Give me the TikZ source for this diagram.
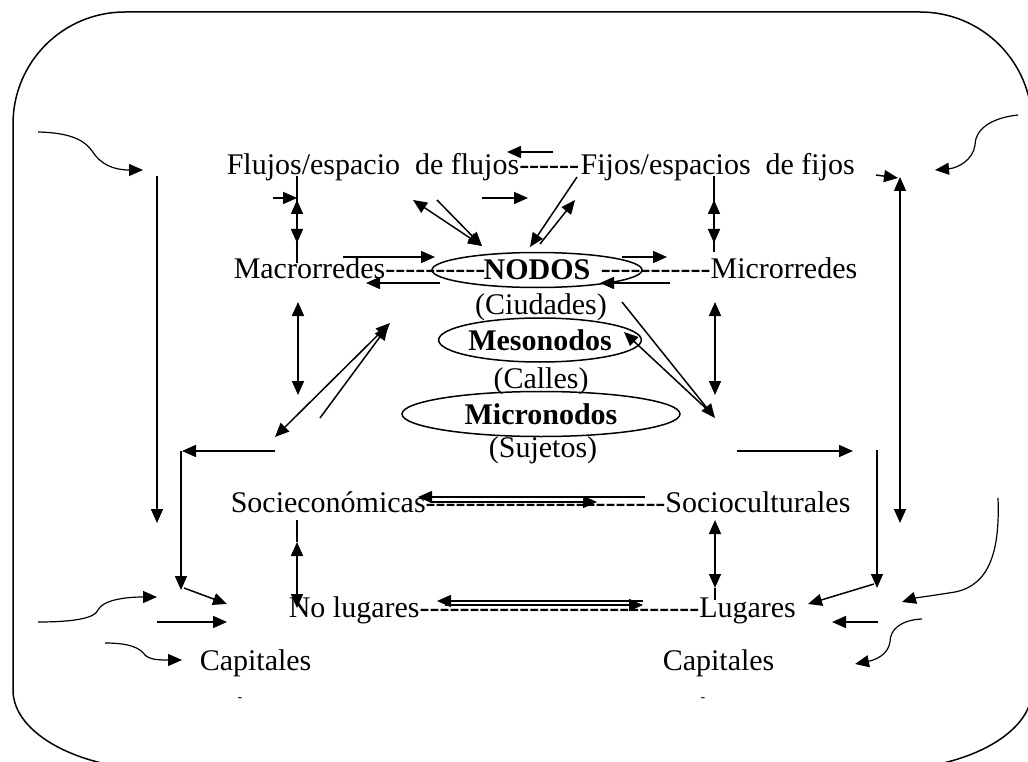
\documentclass[tikz,border=0pt]{standalone}
\usepackage{fontspec}
\setmainfont{Liberation Serif}
\usetikzlibrary{arrows.meta,shapes.geometric}

\newcommand\tamano{\fontsize{30}{36}\selectfont}
\newcommand\guiones[1]{\foreach\g in {1,...,#1}{-}}

\tikzset{
  flecha/.style={-{Triangle[length=14pt,width=12pt]}},
  dflecha/.style={{Triangle[length=14pt,width=12pt]}-{Triangle[length=14pt,width=12pt]}},
  txt/.style={inner sep=0pt, anchor=base west},
  nodo/.style={ellipse, draw, inner sep=0pt, font=\tamano\bfseries},
}

\begin{document}
\begin{tikzpicture}[x=1pt, y=-1pt, line width=1.5pt, font=\tamano]
\useasboundingbox (0,0) rectangle (1028,762);
\clip (0,0) rectangle (1028,762);
% marco
\draw (13,690) -- (13,124) .. controls (13,62) and (63,12) .. (125,12) -- (920,12)
  .. controls (982,12) and (1032,62) .. (1032,124) -- (1032,690)
  .. controls (1032,734) and (965,770) .. (882,770) -- (163,770)
  .. controls (80,770) and (13,734) .. (13,690);

% textos
\node[txt] (flujos) at (226,175) {Flujos/espacio\ \ de flujos\guiones{6}};
\node[txt] (fijos) at (flujos.base east) {Fijos/espacios\ \ de fijos};
\node[nodo, minimum width=210, minimum height=35] (nodos) at (537,270) {NODOS};
\node[txt] (macro) at (233,278) {Macrorredes\guiones{10}};
\node[txt] (micro) at (600,278) {\guiones{11}Microrredes};
\node[anchor=base, inner sep=0pt] (ciudades) at (541,314) {(Ciudades)};
\node[nodo, minimum width=200, minimum height=44] (meso) at (540,340) {Mesonodos};
\node[anchor=base, inner sep=0pt] (calles) at (541,388) {(Calles)};
\node[nodo, minimum width=278, minimum height=45] (micron) at (541,414) {Micronodos};
\node[anchor=base, inner sep=0pt] (sujetos) at (543,457) {(Sujetos)};
\node[txt] (socio) at (230,512) {Socieconómicas\guiones{24}Socioculturales};
\node[txt] (lugares) at (288,617) {No lugares\guiones{28}Lugares};
\node[txt] (capi) at (199,670) {Capitales};
\node[txt] (capd) at (662,670) {Capitales};
\node[font=\fontsize{14}{14}\selectfont] (gi) at (240,700) {-};
\node[font=\fontsize{14}{14}\selectfont] (gd) at (703,700) {-};

% flechas de arriba
\draw[flecha, line width=1.2pt] (38,132) .. controls (80,133) and (88,145) .. (95,155)
  .. controls (105,168) and (120,170) .. (143,170);
\draw[flecha] (157,176) -- (157,523);
\draw[flecha] (273,198) -- (297,198);
\draw (297,176) -- (297,263);
\draw[dflecha] (297,200) -- (297,243);
\draw (714,176) -- (714,252);
\draw[dflecha] (714,200) -- (714,243);
\draw[flecha] (553,152) -- (507,152);
\draw[flecha] (482,198) -- (528,198);
\draw[dflecha] (413,200) -- (482,246);
\draw[flecha] (437,200) -- (482,246);
\draw[flecha] (577,177) -- (530,247);
\draw[flecha] (540,244) -- (575,200);
\draw[flecha, line width=1.2pt] (1018,115) .. controls (990,118) and (975,130) .. (975,145)
  .. controls (973,160) and (958,168) .. (935,170);
\draw[flecha] (876,175) -- (898,178);
\draw[dflecha] (900,177) -- (900,523);

% alrededor de NODOS
\draw[flecha] (343,257) -- (435,257);
\draw[flecha] (440,283) -- (366,283);
\draw[flecha] (622,257) -- (667,257);
\draw[flecha] (670,283) -- (600,283);
\draw[dflecha] (298,302) -- (298,395);
\draw[dflecha] (715,302) -- (715,395);
\draw[dflecha] (275,437) -- (390,323);
\draw[flecha] (320,418) -- (388,326);
\draw[flecha] (622,302) -- (715,418);
\draw[flecha] (712,414) -- (624,332);

% lados
\draw[flecha] (275,451) -- (182,451);
\draw[flecha] (181,451) -- (181,590);
\draw[flecha] (184,588) -- (227,604);
\draw[flecha] (737,451) -- (853,451);
\draw[flecha] (877,450) -- (877,588);
\draw[flecha] (874,584) -- (808,604);

% abajo
\draw[flecha] (645,497) -- (418,497);
\draw[flecha] (430,502) -- (597,502);
\draw (297,520) -- (297,542);
\draw[dflecha] (297,542) -- (297,608);
\draw[dflecha] (715,520) -- (715,588);
\draw (715,588) -- (715,600);
\draw[flecha] (643,601) -- (437,601);
\draw[flecha] (445,605) -- (643,605);
\draw[flecha, line width=1.2pt] (998,498) .. controls (1000,550) and (990,585) .. (955,592)
  .. controls (930,596) and (915,598) .. (902,602);
\draw[flecha] (878,622) -- (832,622);
\draw[flecha, line width=1.2pt] (922,619) .. controls (900,620) and (890,630) .. (890,642)
  .. controls (888,655) and (875,660) .. (855,664);
\draw[flecha, line width=1.2pt] (38,622) .. controls (75,622) and (95,618) .. (98,610)
  .. controls (103,600) and (125,597) .. (157,597);
\draw[flecha] (157,622) -- (227,622);
\draw[flecha, line width=1.2pt] (105,643) .. controls (130,643) and (140,648) .. (145,655)
  .. controls (150,660) and (160,660) .. (182,660);
\end{tikzpicture}
\end{document}
